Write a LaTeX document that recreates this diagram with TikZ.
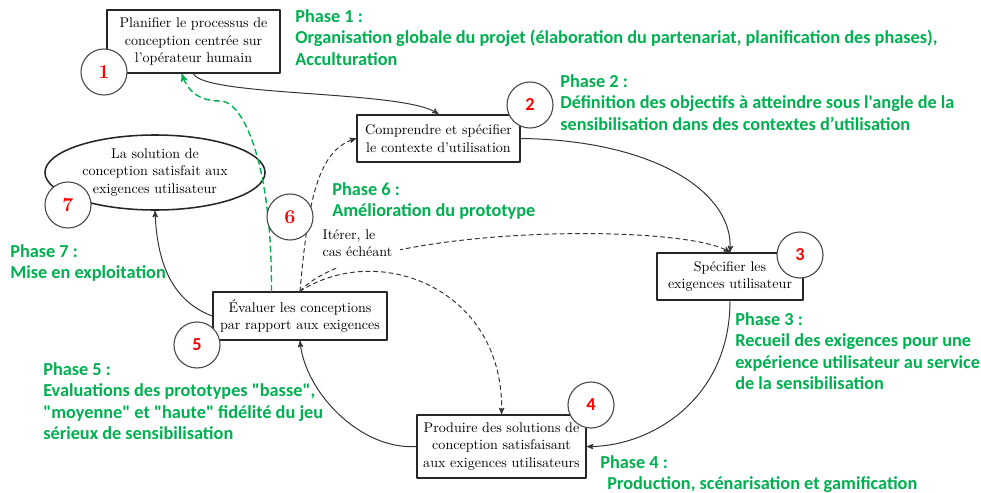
\documentclass[tikz,border=0pt]{standalone}
\usepackage{fontspec}
\newfontfamily\calib{Carlito}
\usepackage{tikz}
\usetikzlibrary{arrows,calc,shapes.geometric}
\definecolor{vert}{RGB}{0,176,80}
\definecolor{rouge}{RGB}{255,0,0}
\tikzset{>=stealth',
every picture/.append style={
    line join=round,
    line cap=round
  },
etape/.style={draw=black!85,line width=1.1pt,align=center,inner sep=0pt,font=\fontsize{10}{12.5}\selectfont},
rond/.style={circle,draw=black!70,line width=.8pt,fill=white,minimum size=1.15cm,inner sep=0pt,text=rouge},
chiffre/.style={rond,font=\bfseries\fontsize{14}{14}\selectfont},
chiffresans/.style={rond,font=\calib\bfseries\fontsize{13}{13}\selectfont},
phase/.style={anchor=north west,align=left,inner sep=0pt,text=vert,font=\calib\bfseries\fontsize{13}{15.3}\selectfont},
lien/.style={draw=black!80,line width=.7pt,->},
pointille/.style={lien,dash pattern=on 3pt off 2.5pt},
retour/.style={draw=vert,line width=1pt,->,dash pattern=on 4pt off 3pt}
}

\begin{document}
\begin{tikzpicture}[x=.025cm,y=-.025cm]
  \useasboundingbox (0,0) rectangle (981,493);
  \node [etape,minimum width=4.325cm,minimum height=1.575cm] (plan) at (193.5,41.5) {Planifier le processus de\\conception centrée sur\\l’opérateur humain};
  \node [etape,minimum width=4.075cm,minimum height=1.175cm] (ctx) at (438.5,138.5) {Comprendre et spécifier\\le contexte d’utilisation};
  \node [etape,minimum width=3.65cm,minimum height=1.175cm] (exig) at (730,276.5) {Spécifier les\\exigences utilisateur};
  \node [etape,minimum width=4.225cm,minimum height=1.575cm] (prod) at (501.5,446.5) {Produire des solutions de\\conception satisfaisant\\aux exigences utilisateurs};
  \node [etape,minimum width=4.35cm,minimum height=1.2cm] (eval) at (300,316) {Évaluer les conceptions\\par rapport aux exigences};
  \node [etape,ellipse,minimum width=5.5cm,minimum height=1.875cm] (sol) at (155,172.5) {La solution de\\conception satisfait aux\\exigences utilisateur};

  \draw [lien] (plan.south) .. controls (205,97) and (405,90) .. (ctx.north);
  \draw [lien] (ctx.east) .. controls (650,140) and (734,190) .. (exig.north);
  \draw [lien] (exig.south) .. controls (730,400) and (650,447) .. (prod.east);
  \draw [lien] (prod.west) .. controls (360,450) and (305,392) .. (eval.south);
  \draw [lien] (eval.west) .. controls (170,300) and (157,260) .. (sol.south);
  \draw [pointille] (eval.north) .. controls (308,200) and (318,150) .. (ctx.west);
  \draw [pointille] (eval.north) .. controls (360,225) and (680,222) .. (exig.north);
  \draw [pointille] (eval.north) .. controls (380,240) and (505,290) .. (prod.north);
  \draw [retour] (eval.139) .. controls (272,160) and (242,100) .. (220,101) .. controls (200,101) and (188,92) .. (plan.250);

  \node [anchor=north west,fill=white,inner sep=1pt,align=left,text width=1.9cm,text depth=19pt,font=\fontsize{10}{12}\selectfont] (iter) at (321,228) {Itérer, le\\cas échéant};

  \node [chiffre] (n1) at (104,72) {1};
  \node [chiffresans] (n2) at (530,105) {2};
  \node [chiffresans] (n3) at (800,255) {3};
  \node [chiffresans] (n4) at (591,405) {4};
  \node [chiffresans] (n5) at (197,345) {5};
  \node [chiffre] (n6) at (290,217) {6};
  \node [chiffre] (n7) at (68,205) {7};

  \node [phase] (p1) at (295,9) {Phase 1 :\\Organisation globale du projet (élaboration du partenariat, planification des phases),\\Acculturation};
  \node [phase] (p2) at (560,74) {Phase 2 :\\Définition des objectifs à atteindre sous l'angle de la\\sensibilisation dans des contextes d’utilisation};
  \node [phase] (p6) at (332,182) {Phase 6 :\\Amélioration du prototype};
  \node [phase] (p7) at (10,244) {Phase 7 :\\Mise en exploitation};
  \node [phase] (p3) at (735,312) {Phase 3 :\\Recueil des exigences pour une\\expérience utilisateur au service\\de la sensibilisation};
  \node [phase] (p5) at (43,362) {Phase 5 :\\Evaluations des prototypes "basse",\\"moyenne" et "haute" fidélité du jeu\\sérieux de sensibilisation};
  \node [phase] (p4) at (600,455) {Phase 4 :\\\hspace*{5pt}Production, scénarisation et gamification};
\end{tikzpicture}
\end{document}
